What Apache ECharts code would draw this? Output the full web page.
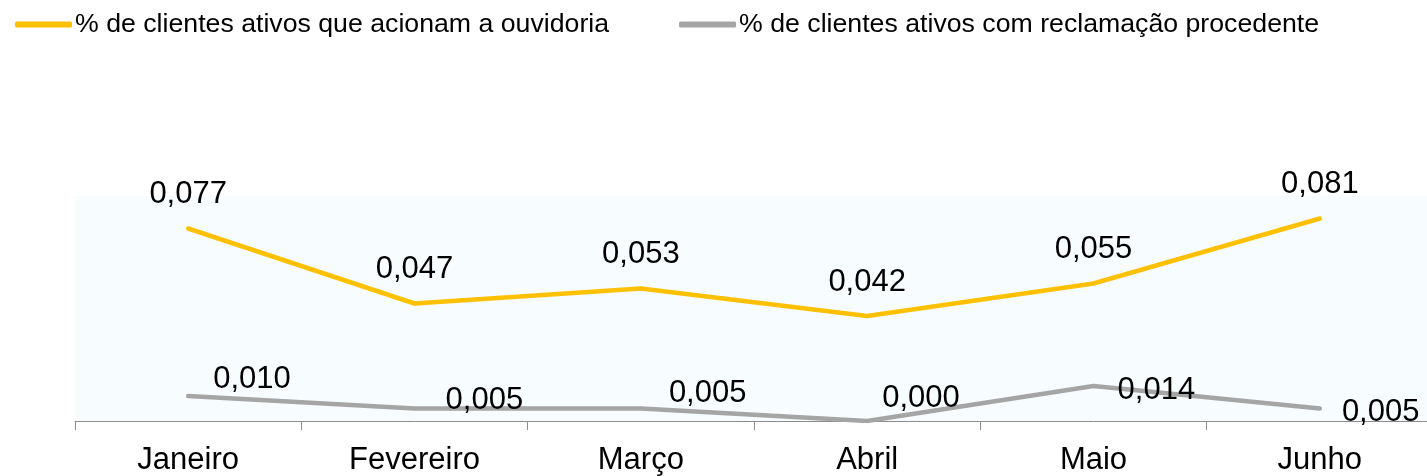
<!DOCTYPE html>
<html>
<head>
<meta charset="utf-8">
<script src="https://cdn.jsdelivr.net/npm/echarts@6/dist/echarts.min.js"></script>
<style>
html, body { margin: 0; padding: 0; background: #fff; overflow: hidden; }
#main { width: 1434px; height: 476px; }
</style>
</head>
<body>
<div id="main"></div>
<script>
// dados
var meses = [ 'Janeiro', 'Fevereiro', 'Março', 'Abril', 'Maio', 'Junho' ];
var nomeOuvidoria = '% de clientes ativos que acionam a ouvidoria';
var nomeProcedente = '% de clientes ativos com reclamação procedente';
var ouvidoria = [ 0.077, 0.047, 0.053, 0.042, 0.055, 0.081 ];
var procedente = [ 0.010, 0.005, 0.005, 0.000, 0.014, 0.005 ];

// deslocamento dos rótulos da série cinza (só layout)
var rotuloDesloc = [ [ 25, -17 ], [ 31, -8 ], [ 28, -15 ], [ 15, -23 ], [ 24, 4 ], [ 22, 4 ] ];

function fmt(p) {
	return p.value.toFixed(3).replace('.', ',');
}

var myChart = echarts.init(document.getElementById('main'));
var option = {
	color : [ '#FFC000', '#A5A5A5' ],
	textStyle : {
		fontFamily : 'Liberation Sans'
	},
	legend : {
		left : 10,
		top : 6,
		icon : 'roundRect',
		itemWidth : 57,
		itemHeight : 6,
		itemGap : 70,
		textStyle : {
			fontSize : 26.7,
			color : '#000',
			padding : [ 0, 0, 0, -2 ]
		},
		data : [ nomeOuvidoria, nomeProcedente ]
	},
	grid : {
		left : 75,
		width : 1358,
		top : 196,
		bottom : 53,
		show : true,
		backgroundColor : '#f7fcfe',
		borderWidth : 0
	},
	xAxis : {
		type : 'category',
		boundaryGap : true,
		data : meses,
		axisLine : {
			lineStyle : {
				color : '#8c8c8c',
				width : 1
			}
		},
		axisTick : {
			show : true,
			interval : 0,
			length : 9,
			lineStyle : {
				color : '#8c8c8c'
			}
		},
		axisLabel : {
			fontSize : 31,
			color : '#000',
			margin : 24
		}
	},
	yAxis : {
		type : 'value',
		min : 0,
		max : 0.09,
		show : false,
		splitLine : {
			show : false
		}
	},
	series : [ {
		name : nomeOuvidoria,
		type : 'line',
		data : ouvidoria,
		symbol : 'circle',
		symbolSize : 0.1,
		lineStyle : {
			width : 4.5,
			cap : 'round'
		},
		label : {
			show : true,
			position : 'top',
			distance : 18,
			fontSize : 31,
			color : '#000',
			formatter : fmt
		}
	}, {
		name : nomeProcedente,
		type : 'line',
		data : procedente.map(function(v, i) {
			return {
				value : v,
				label : {
					offset : rotuloDesloc[i]
				}
			};
		}),
		symbol : 'circle',
		symbolSize : 0.1,
		lineStyle : {
			width : 4.5,
			cap : 'round'
		},
		label : {
			show : true,
			position : 'right',
			distance : 0,
			fontSize : 31,
			color : '#000',
			formatter : fmt
		}
	} ]
};
myChart.setOption(option);
</script>
</body>
</html>
